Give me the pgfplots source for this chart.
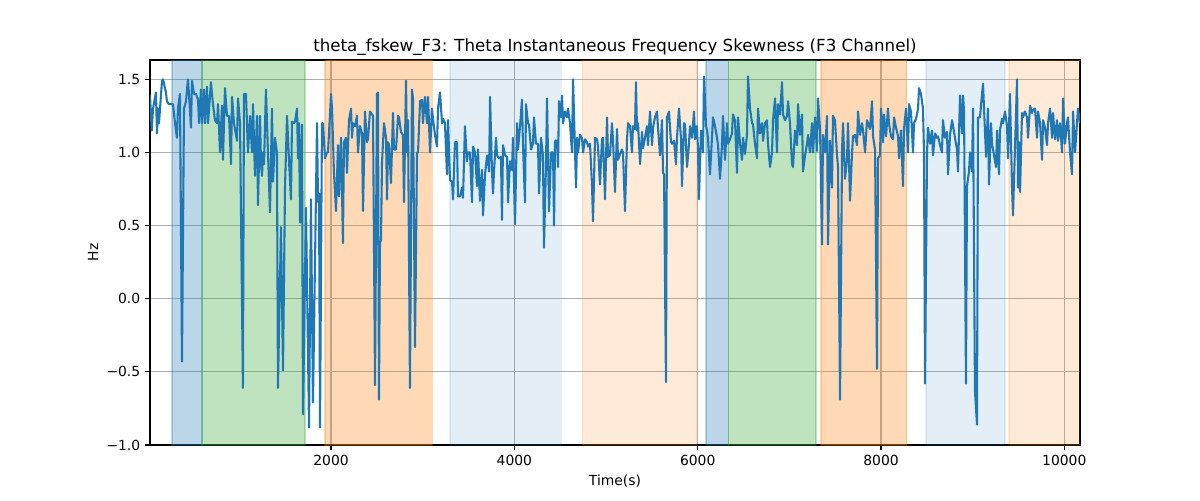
\documentclass[border=0pt]{standalone}
\usepackage{pgfplots}
\pgfplotsset{compat=1.18}
\usepackage{pgfplotstable}
\usepackage{fontspec}
\setmainfont{DejaVu Sans}
\definecolor{c0}{HTML}{1F77B4}
\definecolor{c1}{HTML}{FF7F0E}
\definecolor{c2}{HTML}{2CA02C}
\definecolor{gridc}{HTML}{B0B0B0}
\pgfplotstableread{
x y
25 1.39
44 1.15
58 1.3
90 1.41
101 1.13
112 1.3
123 1.2
156 1.49
167 1.5
199 1.41
210 1.35
232 1.33
265 1.33
276 1.33
298 1.2
319 1.1
330 1.3
352 1.4
374 -0.43
396 1.3
418 1.35
439 1.5
450 1.4
472 1.17
483 1.49
505 1.4
527 1.4
549 1.36
560 1.2
581 1.43
592 1.2
614 1.43
625 1.2
647 1.45
658 1.2
690 1.48
712 1.33
734 1.22
756 1.2
767 1.33
789 1.0
810 1.32
821 0.95
843 1.44
865 1.25
887 1.25
909 0.92
920 1.38
941 1.2
974 1.08
985 1.37
1007 1.2
1039 -0.61
1050 1.4
1072 1.4
1094 1.0
1116 1.25
1138 1.0
1149 1.33
1170 0.84
1192 1.25
1203 0.64
1225 1.25
1236 0.92
1247 0.84
1258 1.0
1269 0.92
1290 1.43
1312 1.0
1334 0.59
1356 1.3
1367 0.8
1389 1.1
1410 1.0
1421 -0.61
1454 0.49
1476 -0.49
1498 0.77
1520 1.25
1541 0.95
1563 0.68
1574 1.21
1596 1.2
1607 1.21
1629 1.3
1640 0.96
1651 1.2
1662 0.52
1683 1.19
1694 -0.79
1727 0.62
1760 -0.88
1781 0.68
1803 -0.71
1847 1.2
1858 0.66
1869 0.72
1880 -0.88
1901 1.2
1912 1.2
1934 0.96
1956 1.0
1967 1.0
2000 1.4
2011 1.3
2032 0.86
2054 0.6
2076 1.05
2087 0.7
2109 1.1
2130 0.38
2141 1.07
2163 1.1
2174 0.86
2196 1.22
2218 1.3
2229 1.1
2240 1.2
2261 1.18
2283 1.25
2294 1.0
2316 1.18
2338 1.13
2349 0.6
2370 1.28
2392 1.07
2403 1.09
2425 1.28
2458 1.25
2480 -0.59
2501 1.4
2512 1.41
2523 -0.69
2534 0.38
2545 0.4
2556 0.93
2578 1.2
2600 1.1
2611 0.68
2622 1.07
2633 1.05
2654 0.79
2676 1.27
2687 1.02
2709 1.02
2731 1.25
2742 1.24
2763 1.14
2785 1.12
2796 0.66
2818 1.49
2829 1.0
2840 1.22
2861 -0.61
2883 1.43
2894 1.37
2916 -0.33
2938 1.0
2949 1.0
2971 1.35
2992 1.36
3003 1.2
3025 1.38
3047 1.2
3058 1.38
3080 1.0
3101 1.3
3112 1.23
3134 1.12
3156 1.04
3167 1.3
3189 1.41
3211 1.2
3222 1.23
3243 1.2
3265 0.85
3276 1.22
3298 0.81
3320 0.8
3331 0.68
3352 1.07
3374 1.07
3385 0.7
3407 0.7
3429 0.76
3440 0.69
3461 1.18
3483 0.94
3494 1.0
3516 1.0
3538 0.66
3549 1.04
3571 1.0
3592 0.77
3603 1.02
3625 0.67
3647 0.88
3658 0.57
3680 0.85
3702 0.98
3713 0.94
3724 0.87
3735 1.38
3756 0.87
3767 0.72
3778 0.87
3800 1.1
3811 0.98
3832 0.96
3854 0.97
3865 0.54
3876 1.05
3898 0.98
3920 0.97
3931 0.66
3952 0.94
3974 0.88
3985 1.1
4007 0.51
4029 1.2
4040 1.02
4062 1.18
4083 1.36
4094 1.05
4116 0.66
4127 1.33
4149 1.2
4160 1.19
4182 1.02
4203 1.06
4214 1.24
4236 1.06
4258 1.06
4269 0.72
4291 1.1
4312 0.98
4323 0.35
4345 0.91
4356 1.37
4378 0.6
4400 1.0
4422 1.0
4433 0.5
4444 1.08
4465 1.08
4476 0.9
4487 1.35
4509 1.24
4520 1.39
4531 1.2
4553 1.28
4574 1.24
4585 1.3
4607 1.2
4629 1.0
4640 1.5
4673 0.76
4684 1.1
4695 1.0
4716 1.12
4738 1.1
4749 1.0
4771 1.09
4793 1.07
4804 1.04
4825 1.06
4847 0.78
4858 0.53
4880 1.1
4902 1.09
4913 1.04
4934 0.78
4956 1.09
4967 1.1
4989 0.68
5011 1.24
5022 0.97
5043 0.98
5065 1.2
5076 1.09
5098 0.73
5120 1.16
5131 0.95
5153 0.99
5174 1.02
5185 1.0
5207 0.6
5229 1.09
5240 1.2
5262 1.18
5283 1.0
5294 1.18
5316 1.16
5327 1.48
5338 1.15
5349 1.2
5371 0.92
5393 1.14
5404 1.03
5425 1.1
5447 1.18
5458 1.05
5480 1.28
5502 1.05
5513 1.17
5534 1.24
5556 1.28
5567 1.17
5589 0.98
5611 1.22
5622 0.86
5633 0.85
5654 -0.57
5665 1.24
5687 1.28
5709 1.07
5720 1.06
5742 1.08
5763 0.92
5774 1.1
5796 1.3
5818 1.09
5829 0.77
5851 1.2
5862 1.19
5884 0.9
5905 1.06
5916 1.18
5938 1.1
5960 1.28
5971 1.09
5992 1.18
6003 1.03
6014 0.68
6036 1.15
6047 1.1
6058 1.0
6069 1.52
6091 1.18
6102 1.15
6113 1.1
6134 0.85
6156 1.1
6167 1.24
6189 1.18
6211 1.1
6222 1.05
6244 0.82
6265 1.05
6276 1.25
6298 0.95
6320 1.2
6331 1.06
6353 1.09
6374 1.13
6385 1.26
6407 1.22
6429 0.86
6440 1.24
6462 1.06
6484 0.95
6495 1.1
6516 0.99
6538 1.12
6549 1.52
6571 1.3
6593 1.2
6604 1.19
6625 1.06
6647 0.96
6658 1.3
6680 1.13
6702 1.2
6713 1.08
6734 1.2
6756 1.22
6767 1.06
6789 0.9
6811 1.0
6822 1.22
6844 1.37
6865 1.0
6876 1.33
6898 1.26
6920 1.48
6931 1.26
6953 1.22
6975 1.25
6986 1.35
7007 1.2
7029 0.92
7040 0.9
7062 1.15
7084 1.05
7095 1.33
7116 1.12
7138 1.26
7149 0.87
7171 0.98
7193 1.06
7204 1.12
7225 1.0
7247 1.2
7258 1.0
7280 1.24
7302 1.01
7313 1.37
7335 1.15
7356 0.37
7367 1.12
7389 1.0
7411 1.25
7422 0.37
7444 1.08
7465 0.76
7476 1.25
7498 1.22
7520 0.98
7531 0.9
7553 -0.69
7575 1.02
7586 1.2
7607 0.82
7629 0.95
7640 1.2
7662 0.67
7684 1.0
7695 1.11
7716 1.12
7738 1.05
7749 1.28
7771 1.12
7793 1.2
7804 1.15
7826 1.0
7847 1.22
7858 1.2
7880 1.16
7902 1.35
7913 1.11
7935 1.02
7956 -0.48
7967 0.96
7989 0.98
8000 1.3
8022 1.07
8033 1.26
8055 1.11
8076 1.3
8087 1.2
8109 1.11
8131 1.09
8142 1.24
8164 1.17
8186 1.11
8197 0.96
8218 1.15
8240 0.77
8251 1.16
8273 1.3
8295 1.0
8306 1.33
8327 1.28
8349 1.0
8360 1.2
8382 1.23
8404 1.3
8415 1.44
8436 1.4
8458 1.3
8469 1.0
8480 -0.58
8502 1.0
8513 1.17
8535 1.06
8556 1.15
8567 0.98
8589 1.13
8611 1.1
8622 1.11
8644 1.05
8665 1.0
8676 1.22
8698 1.1
8720 1.14
8731 0.85
8753 1.12
8775 1.22
8786 1.18
8807 1.1
8829 1.02
8840 0.87
8862 1.39
8884 1.13
8895 1.39
8906 1.28
8927 -0.58
8938 0.77
8960 0.87
8971 1.0
8993 0.87
9004 1.3
9025 -0.63
9047 -0.86
9058 1.24
9080 1.24
9102 1.4
9113 1.47
9124 1.3
9146 0.97
9167 1.3
9178 0.78
9200 1.2
9211 1.06
9233 0.98
9255 0.9
9266 1.15
9287 0.85
9298 1.15
9320 1.23
9331 1.2
9353 1.28
9375 1.18
9386 0.96
9407 1.4
9429 0.77
9440 0.57
9462 1.04
9484 1.5
9495 0.76
9506 1.07
9517 0.73
9538 1.27
9549 1.24
9571 1.28
9593 1.24
9604 1.1
9626 1.32
9647 1.27
9658 1.29
9680 1.3
9702 1.1
9713 1.28
9735 1.2
9757 0.95
9768 1.22
9789 1.17
9811 1.05
9822 1.2
9844 1.3
9866 1.1
9877 1.27
9899 1.09
9920 1.22
9931 1.08
9953 1.2
9975 1.0
9986 1.37
10007 1.06
10029 1.2
10040 1.24
10062 1.0
10084 0.85
10095 1.28
10117 1.0
10138 1.2
10149 1.3
10171 1.2
}\datatable
\begin{document}
\begin{tikzpicture}
\path[use as bounding box] (-108pt,-39.6pt) rectangle (756pt,320.4pt);
\begin{axis}[
  at={(0,0)}, anchor=south west,
  scale only axis,
  width=669.6pt, height=277.2pt,
  xmin=25, xmax=10171,
  ymin=-1.0, ymax=1.632,
  scaled x ticks=false, scaled y ticks=false,
  xtick={2000,4000,6000,8000,10000},
  xticklabels={2000,4000,6000,8000,10000},
  ytick={-1.0,-0.5,0.0,0.5,1.0,1.5},
  yticklabels={−1.0,−0.5,0.0,0.5,1.0,1.5},
  xtick pos=bottom, ytick pos=left,
  tick align=outside,
  major tick length=3.5pt,
  tick style={black, line width=0.8pt},
  axis line style={black, line width=0.8pt},
  grid=major,
  major grid style={gridc, line width=0.8pt},
  tick label style={font=\fontsize{10pt}{12pt}\selectfont},
  xlabel={Time(s)}, ylabel={Hz},
  label style={font=\fontsize{10pt}{12pt}\selectfont},
  xlabel style={at={(axis description cs:0.5,-0.0935)}, anchor=center},
  ylabel style={at={(axis description cs:-0.0613,0.5)}, anchor=center},
  title={theta\_fskew\_F3: Theta Instantaneous Frequency Skewness (F3 Channel)},
  title style={font=\fontsize{12pt}{14pt}\selectfont, at={(axis description cs:0.5,1.0364)}, anchor=center, yshift=-6.5pt},
  clip=true,
]
\addplot[fill=c0, fill opacity=0.3, draw=c0, draw opacity=0.3, line width=1pt, forget plot] coordinates {(265,-1) (592,-1) (592,1.632) (265,1.632)} -- cycle;
\addplot[fill=c2, fill opacity=0.3, draw=c2, draw opacity=0.3, line width=1pt, forget plot] coordinates {(592,-1) (1716,-1) (1716,1.632) (592,1.632)} -- cycle;
\addplot[fill=c1, fill opacity=0.3, draw=c1, draw opacity=0.3, line width=1pt, forget plot] coordinates {(1934,-1) (3106,-1) (3106,1.632) (1934,1.632)} -- cycle;
\addplot[fill=c0, fill opacity=0.12, draw=c0, draw opacity=0.12, line width=1pt, forget plot] coordinates {(3298,-1) (4514,-1) (4514,1.632) (3298,1.632)} -- cycle;
\addplot[fill=c1, fill opacity=0.16, draw=c1, draw opacity=0.16, line width=1pt, forget plot] coordinates {(4741,-1) (5989,-1) (5989,1.632) (4741,1.632)} -- cycle;
\addplot[fill=c0, fill opacity=0.3, draw=c0, draw opacity=0.3, line width=1pt, forget plot] coordinates {(6091,-1) (6334,-1) (6334,1.632) (6091,1.632)} -- cycle;
\addplot[fill=c2, fill opacity=0.3, draw=c2, draw opacity=0.3, line width=1pt, forget plot] coordinates {(6334,-1) (7291,-1) (7291,1.632) (6334,1.632)} -- cycle;
\addplot[fill=c1, fill opacity=0.3, draw=c1, draw opacity=0.3, line width=1pt, forget plot] coordinates {(7346,-1) (8281,-1) (8281,1.632) (7346,1.632)} -- cycle;
\addplot[fill=c0, fill opacity=0.12, draw=c0, draw opacity=0.12, line width=1pt, forget plot] coordinates {(8491,-1) (9353,-1) (9353,1.632) (8491,1.632)} -- cycle;
\addplot[fill=c1, fill opacity=0.16, draw=c1, draw opacity=0.16, line width=1pt, forget plot] coordinates {(9397,-1) (10300,-1) (10300,1.632) (9397,1.632)} -- cycle;
\addplot[color=c0, line width=1.5pt, line join=round, mark=none] table[x=x, y=y] {\datatable};
\end{axis}
\end{tikzpicture}
\end{document}
